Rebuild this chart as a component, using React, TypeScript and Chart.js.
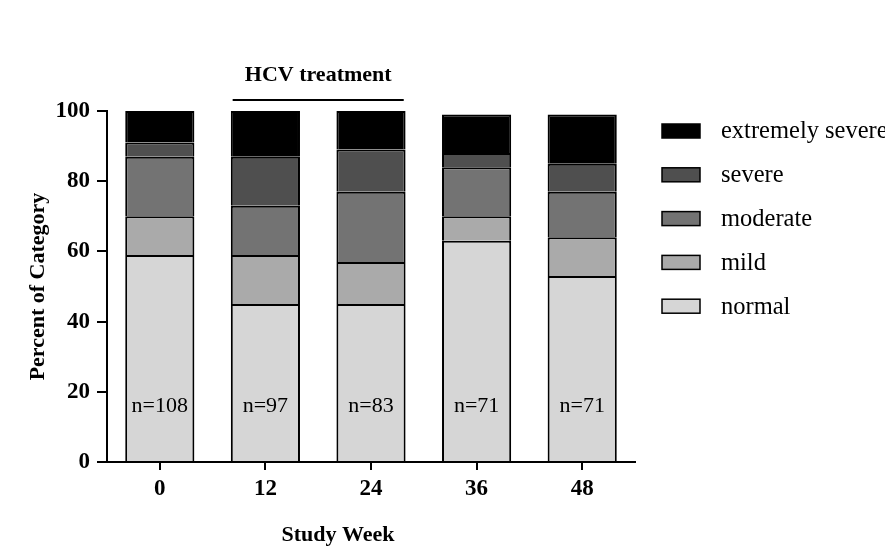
import React, { useEffect, useRef } from "react";
import { Chart, registerables } from "chart.js";

Chart.register(...registerables);

const weeks = ["0", "12", "24", "36", "48"];
const normal = [59, 45, 45, 63, 53];
const mild = [11, 14, 12, 7, 11];
const moderate = [17, 14, 20, 14, 13];
const severe = [4, 14, 12, 4, 8];
const extremelySevere = [9, 13, 11, 11, 14];
const sampleSizes = [108, 97, 83, 71, 71];
const seriesNames = ["normal", "mild", "moderate", "severe", "extremely severe"];
const seriesColors = ["#d6d6d6", "#aaaaaa", "#737373", "#4f4f4f", "#000000"];
const treatmentLabel = "HCV treatment";
const xTitle = "Study Week";
const yTitle = "Percent of Category";

const FONT = "'Liberation Serif', 'Times New Roman', serif";

const overlayPlugin = {
  id: "overlay",
  afterDraw(chart: any) {
    const ctx = chart.ctx;
    const xs = chart.scales.x;
    const ys = chart.scales.y;
    const area = chart.chartArea;
    ctx.save();
    ctx.fillStyle = "#000";
    // n labels
    ctx.font = `22px ${FONT}`;
    ctx.textAlign = "center";
    ctx.textBaseline = "middle";
    sampleSizes.forEach((n, i) => {
      ctx.fillText(`n=${n}`, xs.getPixelForValue(i), ys.getPixelForValue(16));
    });
    // HCV treatment bracket
    const x12 = xs.getPixelForValue(1);
    const x24 = xs.getPixelForValue(2);
    const half = (xs.getPixelForValue(1) - xs.getPixelForValue(0)) * 0.31;
    const lineY = ys.getPixelForValue(103.1);
    ctx.strokeStyle = "#000";
    ctx.lineWidth = 2;
    ctx.beginPath();
    ctx.moveTo(x12 - half, lineY);
    ctx.lineTo(x24 + half, lineY);
    ctx.stroke();
    ctx.font = `bold 22px ${FONT}`;
    ctx.fillText(treatmentLabel, (x12 + x24) / 2, lineY - 25);
    // x title
    ctx.fillText(xTitle, area.left + (area.right - area.left) * 0.4375, area.bottom + 73);
    // y title
    ctx.save();
    ctx.translate(38, (area.top + area.bottom) / 2);
    ctx.rotate(-Math.PI / 2);
    ctx.fillText(yTitle, 0, 0);
    ctx.restore();
    // legend
    ctx.font = `24.5px ${FONT}`;
    ctx.textAlign = "left";
    const lx = area.right + 27;
    const top = area.top + 20;
    const step = 43.8;
    const ds = chart.data.datasets;
    for (let k = 0; k < ds.length; k++) {
      const d = ds[ds.length - 1 - k];
      const cy = top + k * step;
      ctx.fillStyle = d.backgroundColor;
      ctx.fillRect(lx, cy - 7, 38, 14);
      ctx.strokeStyle = "#000";
      ctx.lineWidth = 1.5;
      ctx.strokeRect(lx, cy - 7, 38, 14);
      ctx.fillStyle = "#000";
      ctx.fillText(d.label, lx + 59, cy + 1);
    }
    ctx.restore();
  },
};

export default function App() {
  const ref = useRef<HTMLCanvasElement | null>(null);
  useEffect(() => {
    if (!ref.current) return;
    const series = [normal, mild, moderate, severe, extremelySevere];
    const chart = new Chart(ref.current, {
      type: "bar",
      data: {
        labels: weeks,
        datasets: series.map((values, i) => ({
          label: seriesNames[i],
          data: values,
          backgroundColor: seriesColors[i],
          borderColor: "#000",
          borderWidth: 2,
          borderSkipped: "bottom",
          barPercentage: 0.655,
          categoryPercentage: 1,
        })),
      },
      options: {
        animation: false,
        responsive: true,
        maintainAspectRatio: false,
        layout: { padding: { top: 111, right: 250, left: 0, bottom: 0 } },
        plugins: { legend: { display: false }, tooltip: { enabled: false } },
        scales: {
          x: {
            stacked: true,
            grid: {
              drawOnChartArea: false,
              offset: false,
              tickLength: 8,
              color: "#000",
              lineWidth: 2,
            },
            border: { color: "#000", width: 2 },
            ticks: {
              color: "#000",
              padding: 5,
              font: { family: FONT, size: 23, weight: "bold" },
            },
            afterFit: (s: any) => {
              s.height = 97;
            },
          },
          y: {
            stacked: true,
            min: 0,
            max: 100,
            grid: {
              drawOnChartArea: false,
              tickLength: 10,
              color: "#000",
              lineWidth: 2,
            },
            border: { color: "#000", width: 2 },
            ticks: {
              stepSize: 20,
              color: "#000",
              padding: 7,
              font: { family: FONT, size: 23, weight: "bold" },
            },
            afterFit: (s: any) => {
              s.width = 107;
            },
          },
        },
      },
      plugins: [overlayPlugin],
    });
    return () => chart.destroy();
  }, []);
  return (
    <div style={{ position: "absolute", left: 0, top: 0, width: 885, height: 559, background: "#fff" }}>
      <canvas ref={ref} />
    </div>
  );
}
